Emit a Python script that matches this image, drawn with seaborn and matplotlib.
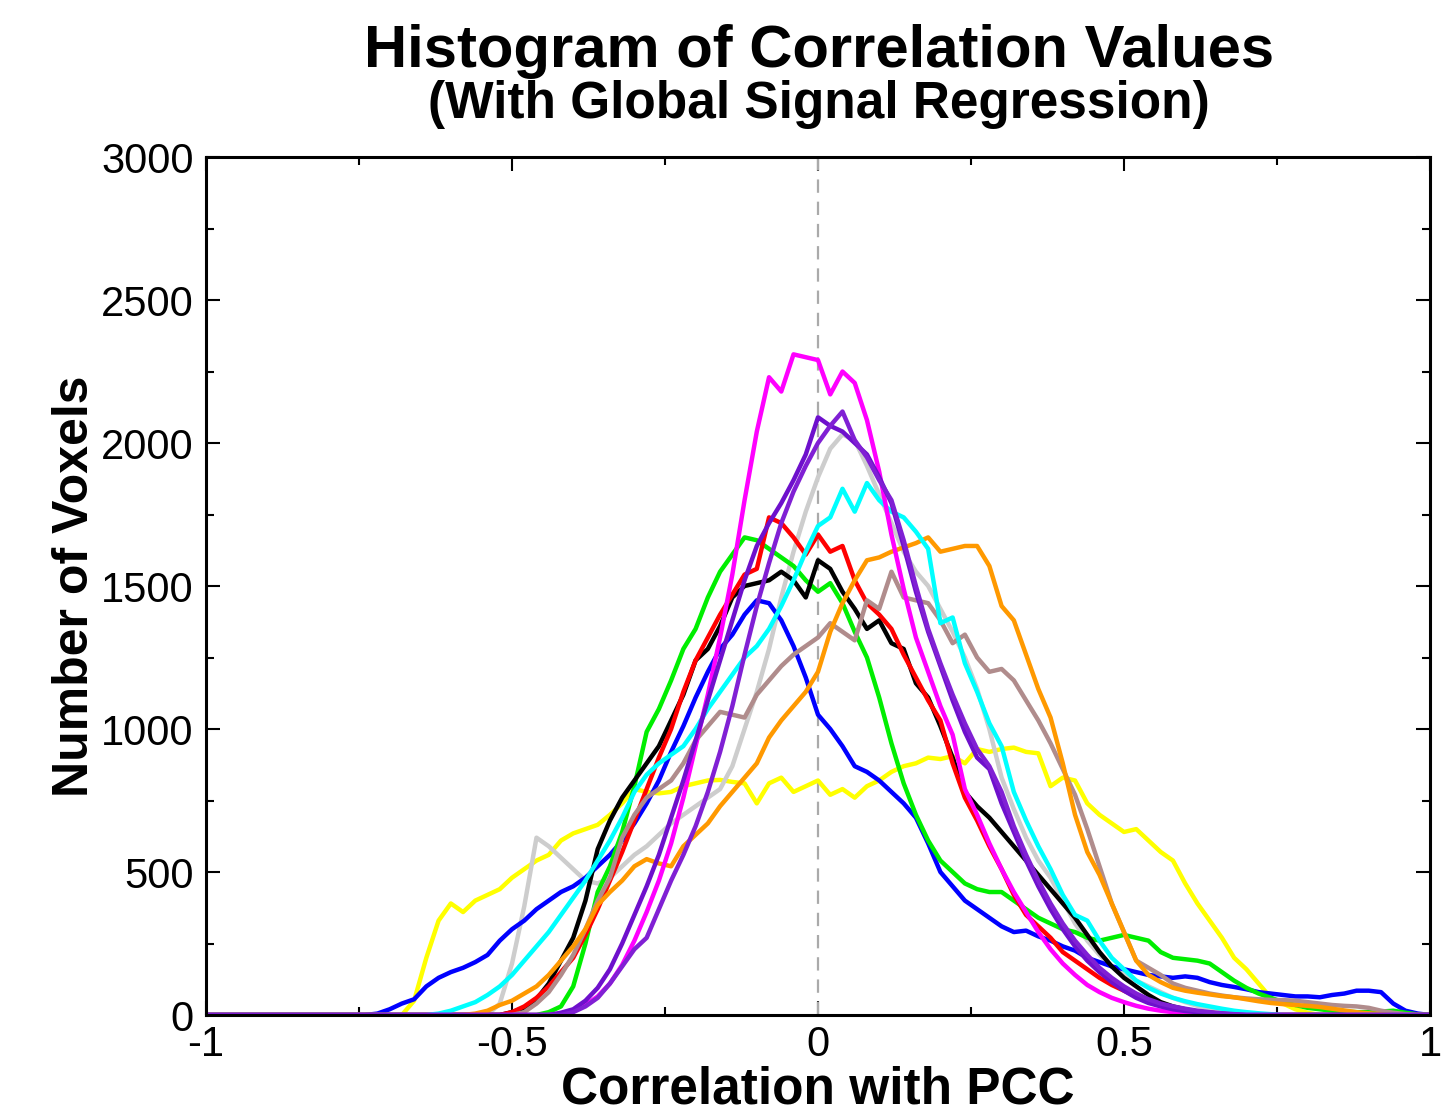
import numpy as np
import pandas as pd
import matplotlib.pyplot as plt
import seaborn as sns
from matplotlib.ticker import MultipleLocator

# histogram counts, bin step 0.02, each list begins at its start value
step = 0.02

yellow_start = -0.68
yellow = [0, 50, 200, 330, 390, 360, 400, 420, 440, 480, 510, 540, 560, 610, 635, 650, 665, 700,
          740, 790, 780, 775, 780, 800, 810, 820, 822, 815, 810, 740, 810, 830, 780, 800, 820, 770,
          790, 760, 800, 820, 850, 870, 880, 900, 895, 905, 880, 930, 920, 930, 935, 920, 915, 800,
          830, 820, 740, 700, 670, 640, 650, 610, 570, 540, 460, 390, 330, 270, 200, 160, 110, 60,
          40, 20, 8, 0]

lightgray_start = -0.54
lightgray = [0, 40, 180, 380, 620, 590, 550, 510, 470, 460, 480, 520, 560, 590, 630, 670, 700,
             730, 760, 790, 870, 1000, 1130, 1280, 1460, 1620, 1760, 1880, 1980, 2030, 2010, 1920,
             1820, 1720, 1620, 1550, 1500, 1420, 1340, 1250, 1140, 1000, 830, 720, 620, 540, 480,
             400, 320, 260, 210, 170, 140, 120, 100, 80, 60, 45, 32, 22, 15, 10, 6, 3, 0]

blue_start = -0.74
blue = [0, 5, 20, 40, 55, 100, 130, 150, 165, 185, 210, 260, 300, 330, 370, 400, 430, 450, 480,
        520, 560, 610, 670, 740, 820, 920, 1010, 1110, 1200, 1280, 1330, 1400, 1450, 1440, 1380,
        1290, 1180, 1050, 1000, 940, 870, 850, 820, 780, 740, 690, 600, 500, 450, 400, 370, 340,
        310, 290, 295, 275, 260, 240, 225, 200, 185, 170, 160, 150, 140, 135, 130, 135, 130, 115,
        105, 98, 90, 80, 75, 70, 65, 65, 62, 70, 75, 85, 85, 80, 40, 15, 5, 0]

green_start = -0.46
green = [0, 10, 30, 100, 250, 430, 520, 640, 800, 990, 1070, 1170, 1280, 1350, 1460, 1550, 1610,
         1670, 1660, 1630, 1600, 1570, 1520, 1480, 1510, 1440, 1340, 1250, 1110, 950, 810, 700,
         610, 540, 500, 460, 440, 430, 430, 400, 370, 340, 320, 300, 290, 270, 260, 270, 280, 270,
         260, 220, 200, 195, 190, 180, 150, 120, 95, 75, 60, 45, 35, 25, 20, 15, 12, 10, 10, 12,
         15, 8, 2, 0]

black_start = -0.52
black = [0, 10, 25, 55, 110, 190, 270, 400, 580, 680, 760, 820, 880, 940, 1030, 1120, 1240, 1280,
         1360, 1460, 1500, 1510, 1520, 1550, 1520, 1460, 1590, 1560, 1480, 1420, 1350, 1380, 1300,
         1280, 1160, 1110, 1010, 900, 780, 730, 690, 640, 590, 540, 490, 440, 390, 340, 280, 220,
         170, 130, 100, 70, 45, 30, 20, 12, 8, 4, 2, 0]

red_start = -0.52
red = [0, 10, 30, 60, 100, 150, 200, 280, 370, 470, 570, 680, 790, 900, 1000, 1130, 1240, 1320,
       1400, 1470, 1540, 1560, 1740, 1720, 1670, 1610, 1680, 1620, 1640, 1520, 1440, 1400, 1350,
       1260, 1180, 1100, 1030, 880, 760, 680, 590, 510, 420, 350, 310, 270, 220, 190, 160, 130,
       105, 85, 65, 48, 35, 25, 18, 12, 8, 4, 2, 0]

brown_start = -0.50
brown = [0, 10, 40, 80, 140, 210, 300, 400, 480, 620, 700, 760, 790, 820, 880, 960, 1010, 1060,
         1050, 1040, 1120, 1170, 1220, 1260, 1290, 1320, 1370, 1340, 1310, 1450, 1420, 1550, 1460,
         1450, 1440, 1380, 1300, 1330, 1250, 1200, 1210, 1170, 1100, 1030, 950, 860, 770, 650, 520,
         390, 290, 190, 165, 140, 110, 95, 85, 75, 68, 62, 58, 55, 53, 52, 50, 45, 40, 35, 32, 30,
         25, 15, 8, 3, 0]

orange_start = -0.58
orange = [0, 5, 15, 35, 50, 75, 100, 140, 190, 240, 300, 385, 430, 470, 520, 545, 530, 520, 590,
          630, 670, 730, 780, 830, 880, 970, 1030, 1080, 1130, 1200, 1340, 1440, 1520, 1590, 1600,
          1620, 1635, 1650, 1670, 1620, 1630, 1640, 1640, 1570, 1430, 1380, 1260, 1140, 1040, 880,
          700, 570, 490, 390, 290, 190, 140, 115, 95, 85, 78, 72, 66, 62, 55, 48, 42, 38, 35, 32,
          28, 22, 16, 10, 6, 3, 0]

cyan_start = -0.64
cyan = [0, 5, 15, 30, 45, 70, 100, 140, 190, 240, 290, 350, 410, 470, 540, 610, 690, 780, 840,
        880, 910, 940, 1000, 1070, 1130, 1190, 1250, 1290, 1350, 1430, 1520, 1620, 1710, 1740,
        1840, 1760, 1860, 1800, 1760, 1740, 1690, 1630, 1370, 1390, 1230, 1130, 1020, 940, 780,
        680, 590, 510, 420, 350, 330, 260, 200, 160, 120, 95, 75, 60, 48, 38, 30, 22, 15, 10, 6,
        3, 0]

magenta_start = -0.44
magenta = [0, 5, 15, 35, 65, 110, 175, 260, 360, 470, 600, 760, 940, 1120, 1320, 1540, 1800, 2040,
           2230, 2180, 2310, 2300, 2290, 2170, 2250, 2210, 2080, 1900, 1680, 1490, 1320, 1200, 1080,
           980, 790, 700, 600, 510, 430, 360, 290, 230, 180, 140, 105, 80, 60, 45, 32, 22, 15, 10,
           6, 4, 2, 0]

purple_a_start = -0.44
purple_a = [0, 8, 20, 50, 95, 160, 250, 350, 450, 560, 690, 820, 960, 1100, 1240, 1380, 1520, 1640,
            1720, 1790, 1870, 1960, 2090, 2060, 2040, 2000, 1960, 1880, 1790, 1640, 1480, 1340, 1220,
            1100, 990, 900, 860, 740, 640, 540, 450, 370, 300, 240, 190, 150, 115, 85, 60, 42, 30,
            20, 14, 10, 6, 4, 2, 0]

purple_b_start = -0.42
purple_b = [0, 10, 30, 60, 110, 170, 230, 270, 370, 470, 560, 660, 780, 920, 1080, 1260, 1430,
            1580, 1720, 1830, 1920, 2000, 2060, 2110, 2010, 1950, 1870, 1800, 1660, 1500, 1350, 1230,
            1120, 1020, 930, 870, 780, 660, 560, 470, 390, 320, 260, 210, 165, 130, 100, 75, 55, 40,
            30, 22, 15, 10, 6, 3, 0]

series = [
    ("yellow", yellow_start, yellow, "#FFFF00"),
    ("lightgray", lightgray_start, lightgray, "#CDCDCD"),
    ("blue", blue_start, blue, "#0000FF"),
    ("green", green_start, green, "#00EE00"),
    ("black", black_start, black, "#000000"),
    ("red", red_start, red, "#FF0000"),
    ("brown", brown_start, brown, "#B08C8C"),
    ("orange", orange_start, orange, "#FF9900"),
    ("cyan", cyan_start, cyan, "#00FFFF"),
    ("magenta", magenta_start, magenta, "#FF00FF"),
    ("purple_a", purple_a_start, purple_a, "#6E10CC"),
    ("purple_b", purple_b_start, purple_b, "#8020D4"),
]

frames = []
for name, start, vals, color in series:
    xs = start + step * np.arange(len(vals))
    frames.append(pd.DataFrame({"r": np.r_[-1.0, xs, 1.0],
                                "count": np.r_[0, vals, 0],
                                "run": name}))
df = pd.concat(frames, ignore_index=True)
palette = {name: color for name, _, _, color in series}

sns.set_style("ticks")
plt.rcParams["font.family"] = ["Liberation Sans", "DejaVu Sans"]
plt.rcParams.update({"text.color": "black", "axes.labelcolor": "black",
                     "xtick.color": "black", "ytick.color": "black",
                     "axes.edgecolor": "black"})

fig = plt.figure(figsize=(14.55, 11.16), dpi=100)
ax = fig.add_axes([0.1416, 0.0905, 0.8412, 0.7688])

ax.axvline(0, color="#AAAAAA", lw=1.6, ls=(0, (6, 4)), zorder=1)
sns.lineplot(data=df, x="r", y="count", hue="run", hue_order=[s[0] for s in series],
             palette=palette, linewidth=3.2, legend=False, ax=ax, zorder=2)

ax.set_xlim(-1, 1)
ax.set_ylim(0, 3000)
ax.xaxis.set_major_locator(MultipleLocator(0.5))
ax.xaxis.set_minor_locator(MultipleLocator(0.25))
ax.yaxis.set_major_locator(MultipleLocator(500))
ax.yaxis.set_minor_locator(MultipleLocator(250))
ax.set_xticks([-1, -0.5, 0, 0.5, 1])
ax.set_xticklabels(["-1", "-0.5", "0", "0.5", "1"])
ax.tick_params(which="both", direction="in", top=True, right=True, width=1.5, labelsize=30)
ax.tick_params(axis="x", pad=7)
ax.tick_params(axis="y", pad=9)
ax.tick_params(which="major", length=10)
ax.tick_params(which="minor", length=6)
for sp in ax.spines.values():
    sp.set_linewidth(2.2)

ax.set_xlabel("Correlation with PCC", fontsize=37, fontweight="bold", va="center")
ax.set_ylabel("Number of Voxels", fontsize=36, fontweight="bold", va="center")
ax.xaxis.set_label_coords(0.5, -0.087)
ax.yaxis.set_label_coords(-0.107, 0.5)

fig.text(0.563, 0.954, "Histogram of Correlation Values", fontsize=43, fontweight="bold",
         ha="center", va="center")
fig.text(0.563, 0.906, "(With Global Signal Regression)", fontsize=37, fontweight="bold",
         ha="center", va="center")

fig.savefig("out.png", dpi=100)
